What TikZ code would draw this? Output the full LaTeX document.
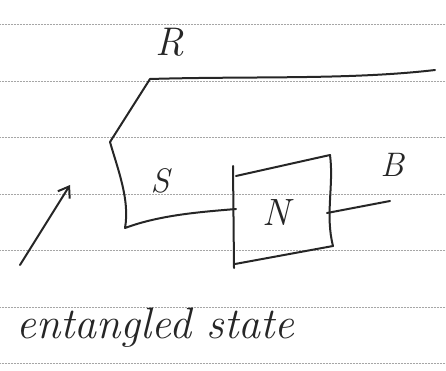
\documentclass[tikz,border=0pt]{standalone}
\usetikzlibrary{arrows.meta}
\begin{document}
\begin{tikzpicture}[x=1pt,y=-1pt,
  ink/.style={line width=2pt,line cap=round,line join=round,black!85},
  rule/.style={densely dotted,line width=0.5pt,black!35},
  hand/.style={font=\itshape\fontsize{40}{40}\selectfont,inner sep=0pt,black!85}]
  \useasboundingbox (0,0) rectangle (446,371);
  % ruled notebook lines
  \foreach \y in {24,81,137,194,250,307,363}
    \draw[rule] (0,\y) -- (446,\y);
  % corner points of the circuit
  \coordinate (rtop) at (150,79);
  \coordinate (rend) at (435,70);
  \coordinate (kink) at (110,142);
  \coordinate (sbot) at (125,228);
  \coordinate (nin) at (236,209);
  \coordinate (ntl) at (236,176);
  \coordinate (ntr) at (330,155);
  \coordinate (nbr) at (333,246);
  \coordinate (nbl) at (235,264);
  \coordinate (nout) at (327,213);
  \coordinate (bend) at (390,201);
  % wire R
  \draw[ink] (rtop) .. controls (250,76) and (350,80) .. (rend);
  % system S
  \draw[ink] (rtop) -- (kink) .. controls (118,170) and (130,200) .. (sbot)
    .. controls (160,215) and (200,212) .. (nin);
  % box N
  \draw[ink] (233,166) -- (234,268);
  \draw[ink] (ntl) -- (ntr) .. controls (334,185) and (325,215) .. (nbr) -- (nbl);
  % wire B
  \draw[ink] (nout) -- (bend);
  % labels
  \node[hand] (R) at (170,42) {R};
  \node[hand,font=\itshape\fontsize{34}{34}\selectfont] (S) at (160,181) {S};
  \node[hand,font=\itshape\fontsize{38}{38}\selectfont] (N) at (276,213) {N};
  \node[hand,font=\itshape\fontsize{34}{34}\selectfont] (B) at (392,165) {B};
  \node[hand,anchor=base west,font=\itshape\fontsize{44}{44}\selectfont] (txt) at (16,338) {entangled state};
  % arrow pointing at the pair
  \coordinate (atail) at (20,265);
  \coordinate (ahead) at (70,185);
  \draw[ink,-{Straight Barb[length=10pt,width=14pt]}] (atail) -- (ahead);
\end{tikzpicture}
\end{document}
